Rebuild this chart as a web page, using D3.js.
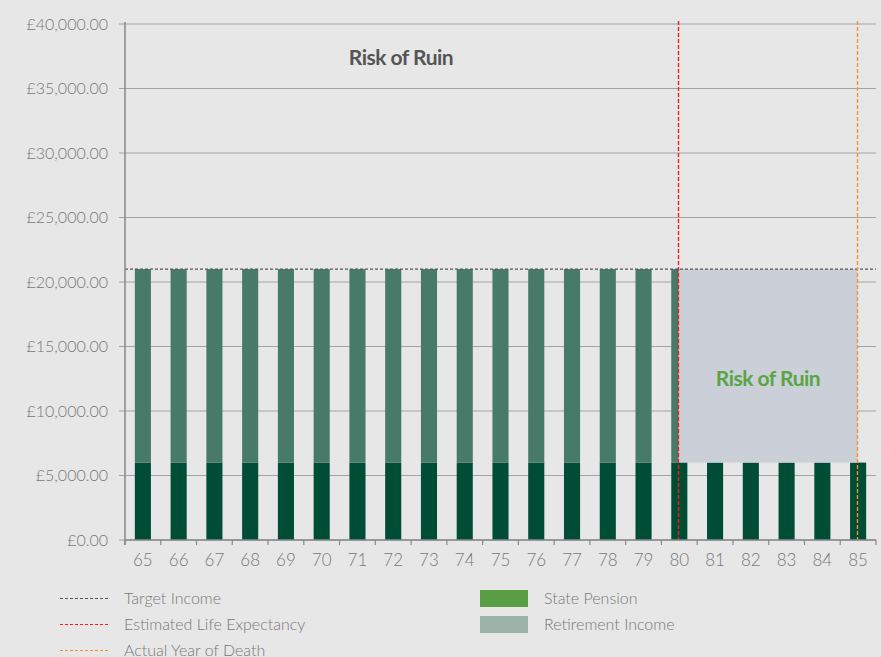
<!DOCTYPE html>
<html>
<head>
<meta charset="utf-8">
<script src="https://cdn.jsdelivr.net/npm/d3@7"></script>
<style>
  body { margin: 0; background: #e7e7e7; }
  svg { display: block; font-family: Lato, "Open Sans", sans-serif; }
</style>
</head>
<body>
<div id="chart"></div>
<script>
var ages = ["65","66","67","68","69","70","71","72","73","74","75","76","77","78","79","80","81","82","83","84","85"];
var statePension = [6000,6000,6000,6000,6000,6000,6000,6000,6000,6000,6000,6000,6000,6000,6000,6000,6000,6000,6000,6000,6000];
var retirementIncome = [15000,15000,15000,15000,15000,15000,15000,15000,15000,15000,15000,15000,15000,15000,15000,15000,0,0,0,0,0];
var targetIncome = 21000;
var lifeExpectancy = "80";
var yearOfDeath = "85";
var yTicks = [0,5000,10000,15000,20000,25000,30000,35000,40000];

var width = 881, height = 657;
var margin = {left: 125, right: 5, top: 24, bottom: 117};

var svg = d3.select("#chart").append("svg")
  .attr("width", width)
  .attr("height", height);

svg.append("rect").attr("width", width).attr("height", height).attr("fill", "#e7e7e7");

var x = d3.scaleBand()
  .domain(ages)
  .range([margin.left, width - margin.right])
  .paddingInner(0.55)
  .paddingOuter(0.275);

var xb = d3.scaleBand().domain(ages).range([margin.left, width - margin.right]);

var y = d3.scaleLinear()
  .domain([0, 40000])
  .range([height - margin.bottom, margin.top]);

// gridlines
svg.append("g")
  .selectAll("line")
  .data(yTicks)
  .enter()
  .append("line")
  .attr("x1", margin.left - 6)
  .attr("x2", width - margin.right)
  .attr("y1", function(d) { return y(d); })
  .attr("y2", function(d) { return y(d); })
  .attr("stroke", "#a3a3a3")
  .attr("stroke-width", 1.2);

// y axis labels
svg.append("g")
  .selectAll("text")
  .data(yTicks)
  .enter()
  .append("text")
  .attr("x", 108)
  .attr("y", function(d) { return y(d); })
  .attr("dy", "0.35em")
  .attr("text-anchor", "end")
  .attr("fill", "#777")
  .attr("font-size", 16)
  .attr("font-weight", 300)
  .text(function(d) { return "£" + d3.format(",.2f")(d); });

// bars: state pension
svg.append("g")
  .selectAll("rect")
  .data(ages)
  .enter()
  .append("rect")
  .attr("x", function(d) { return x(d); })
  .attr("width", x.bandwidth())
  .attr("y", function(d, i) { return y(statePension[i]); })
  .attr("height", function(d, i) { return y(0) - y(statePension[i]); })
  .attr("fill", "#004d35");

// bars: retirement income
svg.append("g")
  .selectAll("rect")
  .data(ages)
  .enter()
  .append("rect")
  .attr("x", function(d) { return x(d); })
  .attr("width", x.bandwidth())
  .attr("y", function(d, i) { return y(statePension[i] + retirementIncome[i]); })
  .attr("height", function(d, i) { return y(statePension[i]) - y(statePension[i] + retirementIncome[i]); })
  .attr("fill", "#487a69");

// risk of ruin shortfall area
var cx1 = Math.round(xb(lifeExpectancy) + xb.bandwidth() / 2) - 0.5;
var cx2 = Math.round(xb(yearOfDeath) + xb.bandwidth() / 2) - 0.5;
svg.append("rect")
  .attr("x", cx1)
  .attr("width", cx2 - cx1)
  .attr("y", y(targetIncome))
  .attr("height", y(statePension[15]) - y(targetIncome))
  .attr("fill", "#cbd0d8");

// target income line
svg.append("line")
  .attr("x1", margin.left)
  .attr("x2", width - margin.right)
  .attr("y1", y(targetIncome))
  .attr("y2", y(targetIncome))
  .attr("stroke", "#555")
  .attr("stroke-width", 1.2)
  .attr("stroke-dasharray", "3,2");

// vertical lines
svg.append("line")
  .attr("x1", cx1).attr("x2", cx1)
  .attr("y1", y(40000) - 3).attr("y2", y(0))
  .attr("stroke", "#ff1a1a")
  .attr("stroke-width", 1.4)
  .attr("stroke-dasharray", "4,2");
svg.append("line")
  .attr("x1", cx2).attr("x2", cx2)
  .attr("y1", y(40000) - 3).attr("y2", y(0))
  .attr("stroke", "#f7922a")
  .attr("stroke-width", 1.4)
  .attr("stroke-dasharray", "4,2");

// axes lines
svg.append("line")
  .attr("x1", margin.left).attr("x2", margin.left)
  .attr("y1", y(40000) - 2).attr("y2", y(0) + 5)
  .attr("stroke", "#888").attr("stroke-width", 1.5);
svg.append("line")
  .attr("x1", margin.left).attr("x2", width - margin.right)
  .attr("y1", y(0)).attr("y2", y(0))
  .attr("stroke", "#888").attr("stroke-width", 1.5);

// x ticks at band boundaries
var bounds = ages.map(function(d) { return xb(d); }).concat([width - margin.right]);
svg.append("g")
  .selectAll("line")
  .data(bounds)
  .enter()
  .append("line")
  .attr("x1", function(d) { return d; })
  .attr("x2", function(d) { return d; })
  .attr("y1", y(0))
  .attr("y2", y(0) + 5)
  .attr("stroke", "#888")
  .attr("stroke-width", 1.2);

// x labels
svg.append("g")
  .selectAll("text")
  .data(ages)
  .enter()
  .append("text")
  .attr("x", function(d) { return xb(d) + xb.bandwidth() / 2; })
  .attr("y", y(0) + 20)
  .attr("dy", "0.35em")
  .attr("text-anchor", "middle")
  .attr("fill", "#777")
  .attr("font-size", 17)
  .attr("font-weight", 300)
  .text(function(d) { return d; });

// annotations
svg.append("text")
  .attr("x", 401).attr("y", 58)
  .attr("dy", "0.35em")
  .attr("text-anchor", "middle")
  .attr("fill", "#555")
  .attr("font-size", 21)
  .attr("font-weight", 700)
  .style("letter-spacing", "-0.5px")
  .text("Risk of Ruin");
svg.append("text")
  .attr("x", (cx1 + cx2) / 2).attr("y", 379)
  .attr("dy", "0.35em")
  .attr("text-anchor", "middle")
  .attr("fill", "#5aa543")
  .attr("font-size", 21)
  .attr("font-weight", 700)
  .style("letter-spacing", "-0.5px")
  .text("Risk of Ruin");

// legend
var lineLegend = [
  {name: "Target Income", color: "#555"},
  {name: "Estimated Life Expectancy", color: "#ff1a1a"},
  {name: "Actual Year of Death", color: "#f7922a"}
];
var boxLegend = [
  {name: "State Pension", color: "#5a9e44"},
  {name: "Retirement Income", color: "#9db3aa"}
];
var lg = svg.append("g");
lineLegend.forEach(function(d, i) {
  var ly = 598 + i * 26;
  lg.append("line")
    .attr("x1", 60).attr("x2", 108)
    .attr("y1", ly + 0.5).attr("y2", ly + 0.5)
    .attr("stroke", d.color).attr("stroke-width", 1)
    .attr("stroke-dasharray", "3,2");
  lg.append("text")
    .attr("x", 124).attr("y", ly)
    .attr("dy", "0.35em")
    .attr("fill", "#777")
    .attr("font-size", 16)
    .attr("font-weight", 300)
    .text(d.name);
});
boxLegend.forEach(function(d, i) {
  var ly = 598 + i * 26;
  lg.append("rect")
    .attr("x", 480).attr("y", ly - 8)
    .attr("width", 48).attr("height", 17)
    .attr("fill", d.color);
  lg.append("text")
    .attr("x", 544).attr("y", ly)
    .attr("dy", "0.35em")
    .attr("fill", "#777")
    .attr("font-size", 16)
    .attr("font-weight", 300)
    .text(d.name);
});
</script>
</body>
</html>
